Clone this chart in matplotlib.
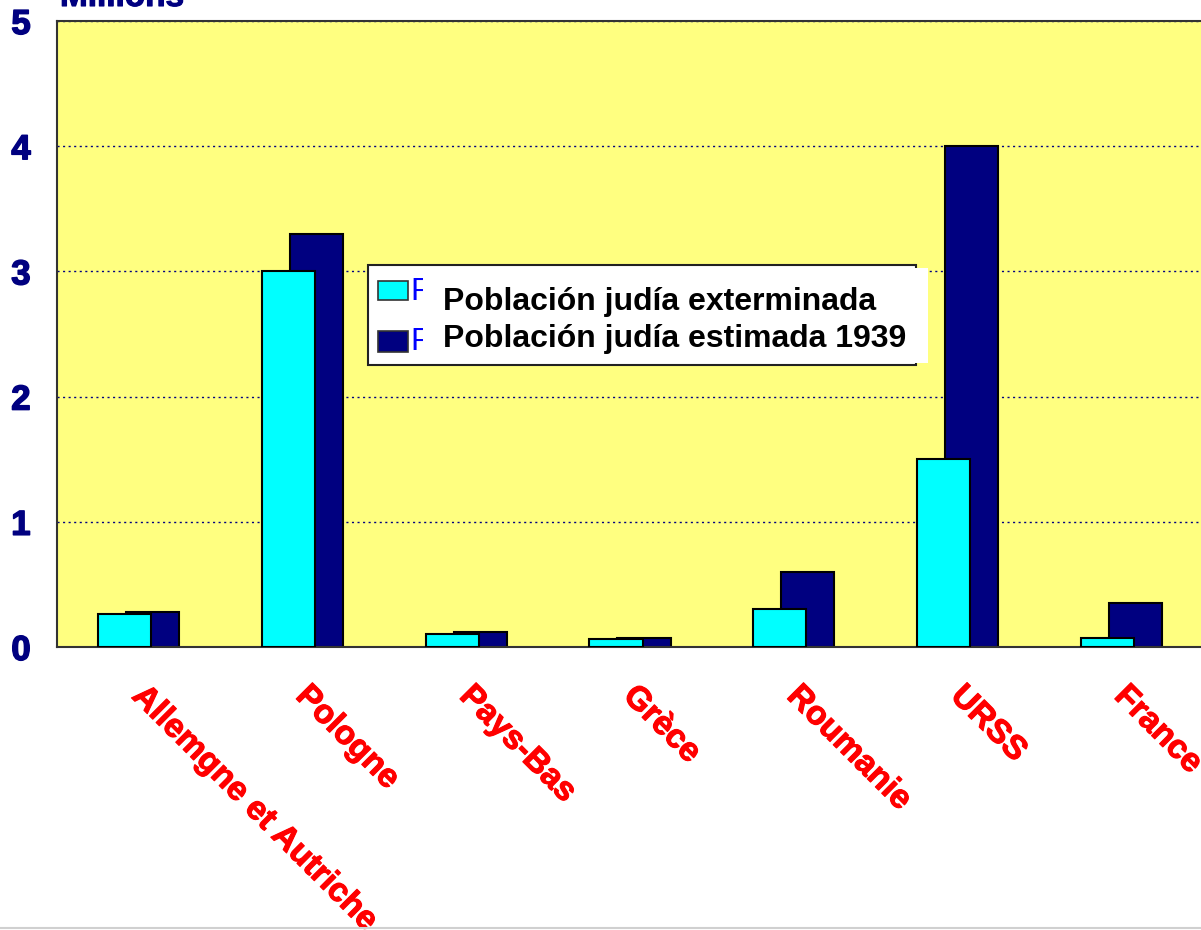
import matplotlib.pyplot as plt
import matplotlib.patheffects as pe
import numpy as np
from matplotlib.patches import Rectangle
from matplotlib.lines import Line2D
from matplotlib.transforms import ScaledTranslation

plt.rcParams['font.family'] = ['Liberation Sans', 'DejaVu Sans']

# Data (millions)
countries = ['Allemgne et Autriche', 'Pologne', 'Pays-Bas', 'Grèce', 'Roumanie', 'URSS', 'France']
exterminated = [0.26, 3.0, 0.10, 0.065, 0.30, 1.50, 0.075]
estimated_1939 = [0.28, 3.3, 0.12, 0.07, 0.60, 4.0, 0.35]
series_labels = ['Población judía exterminada', 'Población judía estimada 1939']

W, H = 1201, 930
fig = plt.figure(figsize=(W / 100, H / 100), dpi=100)
ax = fig.add_axes([57 / W, (H - 647) / H, 1146 / W, 626 / H])
ax.set_facecolor('#FFFF80')

x = np.arange(len(countries))
bw = 0.324
off = 0.0855
ax.bar(x + off, estimated_1939, bw, color='#000080', edgecolor='black', linewidth=1.5, zorder=2)
ax.bar(x - off, exterminated, bw, color='#00FFFF', edgecolor='black', linewidth=1.5, zorder=3)

ax.set_xlim(-0.5, len(countries) - 0.5)
ax.set_ylim(0, 5)
ax.set_yticks(range(6))
ax.yaxis.grid(True, linestyle=(0, (1.5, 2.5)), color='#000080', linewidth=1)
ax.set_axisbelow(True)
ax.tick_params(axis='y', length=0, pad=19, labelsize=25, labelcolor='#000080')
for lbl in ax.get_yticklabels():
    lbl.set_fontweight('bold')
    lbl.set_path_effects([pe.withStroke(linewidth=1.1, foreground='#000080')])

ax.set_xticks(x)
ax.set_xticklabels(countries, rotation=-45, ha='left', va='top', rotation_mode='anchor',
                   color='red', fontsize=24, fontweight='bold')
ax.tick_params(axis='x', length=0, pad=24)
shift = ScaledTranslation(9 / 100, 0, fig.dpi_scale_trans)
for lbl in ax.get_xticklabels():
    lbl.set_transform(lbl.get_transform() + shift)
    lbl.set_path_effects([pe.withStroke(linewidth=0.8, foreground='red')])

for s in ax.spines.values():
    s.set_color('#333333')
    s.set_linewidth(1.5)

# "Millions" label (cut off at top)
fig.text(60 / W, (H - 6) / H, 'Millions', color='#000080', fontsize=24,
         fontweight='bold', va='baseline', ha='left',
         path_effects=[pe.withStroke(linewidth=0.8, foreground='#000080')])


def px(x0, y0, x1, y1):
    return (x0 / W, (H - y1) / H), (x1 - x0) / W, (y1 - y0) / H


# Legend (with overlaid white label box as in the original)
xy, w, h = px(368, 265, 916, 365)
fig.add_artist(Rectangle(xy, w, h, facecolor='white', edgecolor='#222222', linewidth=1.5, zorder=5))
xy, w, h = px(378, 281, 408, 300)
fig.add_artist(Rectangle(xy, w, h, facecolor='#00FFFF', edgecolor='#333333', linewidth=1.2, zorder=6))
xy, w, h = px(378, 331, 408, 352)
fig.add_artist(Rectangle(xy, w, h, facecolor='#000080', edgecolor='#333333', linewidth=1.2, zorder=6))
fig.text(411 / W, (H - 292) / H, series_labels[0], color='#0000FF', fontsize=23,
         va='center', ha='left', zorder=7)
fig.text(411 / W, (H - 342) / H, series_labels[1], color='#0000FF', fontsize=23,
         va='center', ha='left', zorder=7)
xy, w, h = px(423, 268, 928, 363)
fig.add_artist(Rectangle(xy, w, h, facecolor='white', edgecolor='none', zorder=8))
for lab, yb in zip(series_labels, [310, 347]):
    fig.text(443 / W, (H - yb) / H, lab, color='black', fontsize=23,
             fontweight='bold', va='baseline', ha='left', zorder=9)

# thin gray line at the bottom edge
fig.add_artist(Line2D([0, 1], [2 / H, 2 / H], color='#D0D0D0', linewidth=1.5))

fig.savefig('out.png', dpi=100)
